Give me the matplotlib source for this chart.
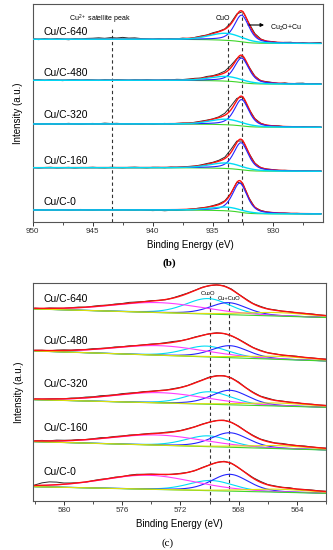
import numpy as np
import matplotlib
matplotlib.use('Agg')
import matplotlib.pyplot as plt

plt.rcParams['font.family'] = ['Liberation Sans', 'DejaVu Sans']
plt.rcParams['mathtext.default'] = 'regular'

samples = ['Cu/C-640', 'Cu/C-480', 'Cu/C-320', 'Cu/C-160', 'Cu/C-0']

# ---------------- Panel (b): Cu 2p3/2 fit parameters ----------------
b_bg_low = [178.2, 137.5, 94.4, 50.4, 7.7]      # background level at low BE side
b_bg_step = [4.2, 3.9, 3.3, 3.6, 4.0]           # Shirley step height
b_cu_center = [932.6, 932.6, 932.6, 932.65, 932.75]
b_cu_height = [26.6, 24.4, 26.3, 27.0, 29.0]
b_cu_fwhm = [1.45, 1.45, 1.45, 1.45, 1.45]
b_cuo_center = [933.9, 933.9, 933.9, 933.9, 933.9]
b_cuo_height = [7.0, 4.7, 5.5, 5.5, 3.7]
b_cuo_fwhm = [3.2, 3.2, 3.2, 3.2, 3.2]
# residual of measured data (0.5 eV steps, 950 -> 926 eV)
b_noise = [
    [0.3, -0.4, 0.5, -0.2, 0.6, 0.0, -0.5, 0.4, 0.2, 0.8, 1.0, 1.4, 0.9, 1.6, 1.2, 1.8, 1.1, 1.3, 0.6, 0.2,
     -0.3, 0.4, -0.2, 0.3, 0.0, 0.5, -0.4, 0.2, 0.6, 0.3, 0.8, 0.5, 0.4, 1.2, 0.8, 0.2, 0.9, 1.0, 0.3, -0.2,
     0.4, -0.5, 0.3, 0.6, -0.3, 0.5, -0.4, 0.4, 0.8],
    [0.2, 0.5, -0.3, 0.4, 0.1, -0.4, 0.3, 0.6, 0.0, 0.4, 0.2, -0.3, 0.5, 0.2, 0.7, 0.3, -0.2, 0.4, 0.1, 0.5,
     0.0, -0.3, 0.4, 0.2, 0.6, 0.3, 0.5, 0.8, 0.4, 1.0, 0.6, 1.0, 1.6, 2.4, 0.5, -0.3, 0.2, 0.4, -0.2, 0.5,
     0.3, -0.4, 0.6, -0.3, 0.5, 0.7, -0.2, 0.4, 0.3],
    [0.4, -0.2, 0.3, 0.5, -0.3, 0.2, 0.6, 0.1, -0.4, 0.3, 0.5, 0.2, 0.8, 0.4, 0.6, 0.2, 0.0, 0.3, -0.2, 0.2,
     -0.4, 0.1, 0.3, -0.2, 0.2, 0.4, 0.1, 0.3, 0.6, 0.5, 0.4, 0.8, 2.0, 3.8, 2.0, 0.2, -0.3, 0.3, 0.1, -0.2,
     0.2, 0.4, -0.3, 0.2, -0.4, 0.3, -0.2, 0.1, -0.3],
    [0.3, -0.3, 0.2, 0.4, -0.2, 0.0, 0.3, -0.3, 0.2, 0.1, 0.4, 0.0, -0.2, 0.3, 0.1, -0.2, 0.2, 0.4, 0.0, -0.3,
     0.2, 0.1, -0.3, 0.3, 0.0, 0.2, 0.4, 0.3, 0.5, 0.8, 0.6, 0.9, 1.4, 3.0, 1.5, -0.2, 0.3, 0.2, -0.2, 0.1,
     0.3, -0.2, 0.2, 0.0, -0.3, 0.2, 0.1, -0.2, 0.1],
    [0.2, 0.4, -0.2, 0.3, 0.0, 0.4, -0.3, 0.2, 0.5, 0.1, -0.2, 0.3, 0.2, 0.4, -0.1, 0.3, 0.0, -0.3, 0.2, -0.4,
     -0.8, -0.5, -1.0, -0.6, -0.9, -0.4, 0.0, 0.2, 0.4, 0.3, 0.6, 0.8, 0.6, 0.2, 0.4, 0.6, 0.3, -0.3, 0.2, 0.0,
     0.1, -0.2, 0.2, -0.1, 0.2, 0.0, -0.2, 0.1, 0.2],
]
b_ticks = [950, 945, 940, 935, 930]
b_sat_line = 943.4
b_cuo_line = 933.7
b_cu_line = 932.6

# ---------------- Panel (c): Cu LMM fit parameters ----------------
c_bg_right = [183.2, 139.7, 93.4, 50.7, 7.4]
c_bg_drop = [8.5, 10.0, 7.6, 8.3, 6.6]
c_mag_center = [573.5, 573.4, 573.4, 573.6, 574.2]
c_mag_height = [10.0, 9.6, 10.3, 10.2, 14.0]
c_cyan_center = [570.1, 570.2, 570.0, 570.1, 569.9]
c_cyan_height = [15.5, 10.8, 12.5, 10.8, 10.2]
c_blue_center = [568.7, 568.6, 568.6, 568.6, 568.6]
c_blue_height = [12.0, 12.0, 14.5, 14.5, 16.8]
c_yel_center = [565.3, 565.3, 565.3, 565.3, 565.3]
c_yel_height = [3.5, 3.0, 3.0, 3.0, 3.0]
c_mag_fwhm, c_cyan_fwhm, c_blue_fwhm, c_yel_fwhm = 7.5, 3.6, 3.0, 5.5
c_noise = [
    [0.2, -0.3, 0.4, 0.1, -0.2, 0.3, 0.5, 0.0, 0.4, 0.6, 0.2, 0.5, 0.3, 0.7, 0.4, 0.2, 0.5, 0.1, -0.2, 0.3,
     0.6, 0.4, 0.2, 0.3, -0.2, 0.1, 0.4, 0.6, 0.2, 0.5, 0.3, 0.6, 0.2, 0.4, 0.0, 0.3, -0.2, 0.2, 0.4, 0.1, 0.2],
    [0.1, 0.3, -0.2, 0.4, 0.6, 0.2, 0.5, 0.3, 0.6, 0.4, 0.2, 0.5, 0.1, 0.3, 0.0, 0.2, 0.4, 0.3, 0.6, 0.8,
     0.2, 0.0, 0.3, 0.1, 0.2, 0.4, 0.1, -0.2, 0.3, 0.5, 0.2, 0.4, 0.0, 0.3, -0.2, 0.2, 0.3, -0.1, 0.2, 0.1, 0.3],
    [0.2, 0.0, 0.3, 0.4, 0.1, 0.5, 0.3, 0.7, 0.4, 0.8, 0.5, 0.3, 0.6, 0.4, 0.2, 0.5, 0.3, 0.4, 0.2, 0.5,
     0.3, 0.1, 0.4, 0.2, 0.6, 0.3, 0.2, 0.4, 0.6, 0.2, 0.5, 0.3, 0.7, 0.2, 0.4, 0.1, 0.3, -0.2, 0.2, 0.0, 0.2],
    [0.3, 0.6, 0.2, 0.8, 0.5, 0.3, 0.6, 0.2, 0.4, 0.7, 0.3, 0.5, 0.2, 0.4, 0.1, 0.3, 0.5, 0.2, 0.6, 0.4,
     0.2, 0.4, 0.1, 0.3, 0.0, 0.2, 0.3, 0.1, 0.4, 0.2, 0.5, 0.3, 0.6, 0.2, 0.7, 0.3, 0.1, 0.4, 0.2, 0.0, 0.2],
    [0.5, 2.5, 3.2, 2.6, 1.2, 0.6, 0.2, -0.3, 0.3, 0.4, 0.0, 0.3, -0.2, 0.4, 0.6, 0.2, 0.3, 0.0, -0.3, 0.2,
     0.4, 0.1, -0.2, 0.3, 0.0, 0.2, 0.5, 0.3, -0.2, 0.4, 0.6, 0.8, 0.3, 0.5, 0.2, 0.6, -0.2, 0.3, 0.4, 0.2, 0.3],
]
c_ticks = [580, 576, 572, 568, 564]
c_cu2o_line = 570.0
c_cucuo_line = 568.65

# ---------------- helpers ----------------
def pvoigt(E, c, h, w, eta):
    x = (E - c) / w
    return h * (eta / (1 + 4 * x ** 2) + (1 - eta) * np.exp(-4 * np.log(2) * x ** 2))

COL_RED = '#ff1010'
COL_BLUE = '#2424ff'
COL_CYAN = '#00dcf5'
COL_GREEN = '#3fd62a'
COL_MAG = '#ff3cff'
COL_YEL = '#dede10'
COL_BLK = '#2a2a2a'

fig = plt.figure(figsize=(3.33, 5.5), dpi=100)
dash = dict(color='#333333', lw=0.8, ls=(0, (3, 2.5)), zorder=1)

# ---------------- panel (b) ----------------
axb = fig.add_axes([32.7 / 333, (550 - 221.7) / 550, (323.3 - 32.7) / 333, 217.7 / 550])
Eb = np.linspace(950, 926, 481)
b_label_dy = [7.6, 7.6, 9.0, 7.0, 8.3]
for i, name in enumerate(samples):
    cu = pvoigt(Eb, b_cu_center[i], b_cu_height[i], b_cu_fwhm[i], 0.55)
    cuo = pvoigt(Eb, b_cuo_center[i], b_cuo_height[i], b_cuo_fwhm[i], 0.3)
    peaks = cu + cuo
    cum = np.cumsum(peaks[::-1])
    cum = (cum / cum[-1])[::-1]
    bg = b_bg_low[i] + b_bg_step[i] * cum
    env = bg + peaks
    raw = env[::10] + np.array(b_noise[i])
    axb.plot(Eb[::10], raw, color=COL_BLK, lw=0.7, zorder=2)
    axb.plot(Eb, env, color=COL_RED, lw=1.0, zorder=3)
    axb.plot(Eb, bg, color=COL_GREEN, lw=0.8, zorder=4)
    axb.plot(Eb, bg + cu, color=COL_BLUE, lw=0.8, zorder=5)
    axb.plot(Eb, bg + cuo, color=COL_CYAN, lw=1.0, zorder=6)
    axb.text(949.1, b_bg_low[i] + b_bg_step[i] + b_label_dy[i], name, fontsize=7.5,
             ha='left', va='center')

axb.axvline(b_sat_line, ymax=0.894, **dash)
axb.axvline(b_cuo_line, ymax=0.917, **dash)
axb.axvline(b_cu_line, ymax=0.96, **dash)
axb.text(944.4, 202.7, 'Cu$^{2+}$ satellite peak', fontsize=5, ha='center', va='center')
axb.text(934.2, 202.7, 'CuO', fontsize=5, ha='center', va='center')
axb.annotate('', xy=(930.5, 196.7), xytext=(932.3, 196.7),
             arrowprops=dict(arrowstyle='-|>', color='black', lw=0.8, mutation_scale=5))
axb.text(930.2, 193.4, 'Cu$_2$O+Cu', fontsize=5, ha='left', va='center')

axb.set_xlim(950, 925.8)
axb.set_ylim(0, 217.7)
axb.set_xticks(b_ticks)
axb.set_xticks([947.5, 942.5, 937.5, 932.5, 927.5], minor=True)
axb.set_yticks([])
axb.set_xlabel('Binding Energy (eV)', fontsize=7)
axb.xaxis.set_label_coords(0.544, -0.085)
axb.set_ylabel('Intensity (a.u.)', fontsize=7)
axb.yaxis.set_label_coords(-0.033, 0.5)

# ---------------- panel (c) ----------------
axc = fig.add_axes([33.3 / 333, (550 - 500.7) / 550, (326 - 33.3) / 333, 217.7 / 550])
Ec = np.linspace(582, 562, 401)
c_label_dy = [10.0, 10.0, 16.0, 13.5, 15.0]
for i, name in enumerate(samples):
    bg = c_bg_right[i] + c_bg_drop[i] * (Ec - 562) / 20.0
    mag = pvoigt(Ec, c_mag_center[i], c_mag_height[i], c_mag_fwhm, 0.2)
    cya = pvoigt(Ec, c_cyan_center[i], c_cyan_height[i], c_cyan_fwhm, 0.2)
    blu = pvoigt(Ec, c_blue_center[i], c_blue_height[i], c_blue_fwhm, 0.3)
    yel = pvoigt(Ec, c_yel_center[i], c_yel_height[i], c_yel_fwhm, 0.3)
    env = bg + mag + cya + blu + yel
    raw = env[::10] + np.array(c_noise[i])
    axc.plot(Ec[::10], raw, color=COL_BLK, lw=0.7, zorder=2)
    axc.plot(Ec, bg + cya, color=COL_CYAN, lw=0.8, zorder=3)
    axc.plot(Ec, bg + blu, color=COL_BLUE, lw=0.8, zorder=4)
    axc.plot(Ec, bg + mag, color=COL_MAG, lw=0.8, zorder=5)
    axc.plot(Ec, bg, color=COL_GREEN, lw=0.8, zorder=6)
    axc.plot(Ec, bg + yel, color=COL_YEL, lw=0.8, zorder=7)
    axc.plot(Ec, env, color=COL_RED, lw=1.0, zorder=8)
    axc.text(581.4, c_bg_right[i] + c_bg_drop[i] + c_label_dy[i], name, fontsize=7.5,
             ha='left', va='center')

axc.axvline(c_cu2o_line, ymax=0.94, **dash)
axc.axvline(c_cucuo_line, ymax=0.913, **dash)
axc.text(570.1, 207.4, 'Cu$_2$O', fontsize=4.2, ha='center', va='center')
axc.text(568.66, 201.7, 'Cu+CuO', fontsize=4.2, ha='center', va='center')

axc.set_xlim(582.1, 562)
axc.set_ylim(0, 217.7)
axc.set_xticks(c_ticks)
axc.set_xticks([582, 578, 574, 570, 566, 562], minor=True)
axc.set_yticks([])
axc.set_xlabel('Binding Energy (eV)', fontsize=7)
axc.xaxis.set_label_coords(0.5, -0.085)
axc.set_ylabel('Intensity (a.u.)', fontsize=7)
axc.yaxis.set_label_coords(-0.033, 0.5)

for ax in (axb, axc):
    for sp in ax.spines.values():
        sp.set_color('#555555')
        sp.set_linewidth(0.8)
    ax.tick_params(axis='x', which='major', direction='out', length=3, width=0.7,
                   labelsize=5.8, pad=1.5, colors='#333333')
    ax.tick_params(axis='x', which='minor', direction='out', length=1.8, width=0.6, colors='#333333')

fig.text(169 / 333, 1 - 263 / 550, '(b)', fontsize=8, fontweight='bold', ha='center', va='center',
         family=['Liberation Serif', 'DejaVu Serif'])
fig.text(168 / 333, 1 - 542.7 / 550, '(c)', fontsize=8, ha='center', va='center',
         family=['Liberation Serif', 'DejaVu Serif'])

fig.savefig('out.png', dpi=100)
